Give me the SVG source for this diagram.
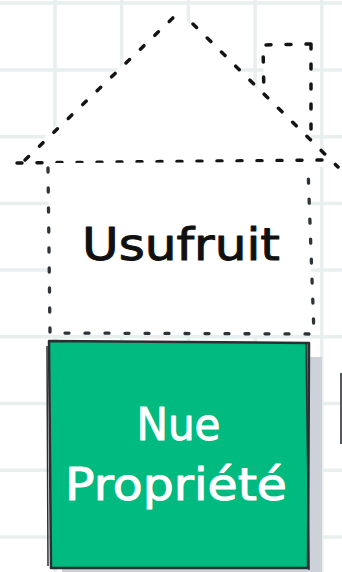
<svg xmlns="http://www.w3.org/2000/svg" width="342" height="572" viewBox="0 0 342 572">
<style>
.grid{stroke:#e8efee;stroke-width:3.5;fill:none}
.dash{fill:none;stroke:#141414;stroke-width:3.5;stroke-linecap:round;stroke-dasharray:5 15}
.dash2{fill:none;stroke:#2e3338;stroke-width:3.3;stroke-linecap:round;stroke-dasharray:4 16}
.white{fill:#ffffff;stroke:none}
.label{font-family:"DejaVu Sans","Noto Sans",sans-serif;font-size:44px;text-anchor:middle;stroke-width:1;stroke-linejoin:round}
</style>
<rect width="342" height="572" fill="#ffffff"/>
<g id="grid" class="grid">
<path d="M55 0V572M121.7 0V572M188.4 0V572M255.1 0V572M321.8 0V572"/>
<path d="M0 3H342M0 70H342M0 136.7H342M0 203.4H342M0 270.1H342M0 336.8H342M0 403.5H342M0 470.2H342M0 536.9H342"/>
</g>
<g id="chimney">
<path class="white" d="M263 45L311 44L311 150L265 150Z"/>
<path class="dash" d="M311 44L263 45L265 150M311 44L311 150"/>
</g>
<g id="roof">
<path class="white" d="M17 163L178 13L338 167Z"/>
<path class="dash" d="M25 160L178 13"/>
<path class="dash" d="M193 24L338 167"/>
<path class="dash" d="M17 163L330 160"/>
</g>
<g id="usufruit">
<path class="white" d="M48 163L308 162L313 335L50 335Z"/>
<path class="dash2" d="M48 168L50 333L314 334L308 168"/>
<text class="label" x="181" y="260" fill="#111111" stroke="#111111" textLength="198" lengthAdjust="spacingAndGlyphs">Usufruit</text>
</g>
<g id="nue-propriete">
<rect x="62" y="357" width="260" height="230" fill="#cdd1d9"/>
<rect x="50" y="342" width="258" height="226" fill="#00ba7f"/>
<path d="M49 341L309 343L308 568L51 568Z" fill="none" stroke="#2b2f33" stroke-width="2.5" stroke-linejoin="round"/>
<path d="M47 346L48 566M306 342L309 570" fill="none" stroke="#2b2f33" stroke-width="1.5"/>
<text class="label" x="178.5" y="440" fill="#ffffff" stroke="#ffffff" textLength="84" lengthAdjust="spacingAndGlyphs">Nue</text>
<text class="label" x="176" y="500" fill="#ffffff" stroke="#ffffff" textLength="222" lengthAdjust="spacingAndGlyphs">Propriété</text>
</g>
<g id="edge-element">
<path d="M341 373V444" stroke="#55595e" stroke-width="2"/>
</g>
</svg>
